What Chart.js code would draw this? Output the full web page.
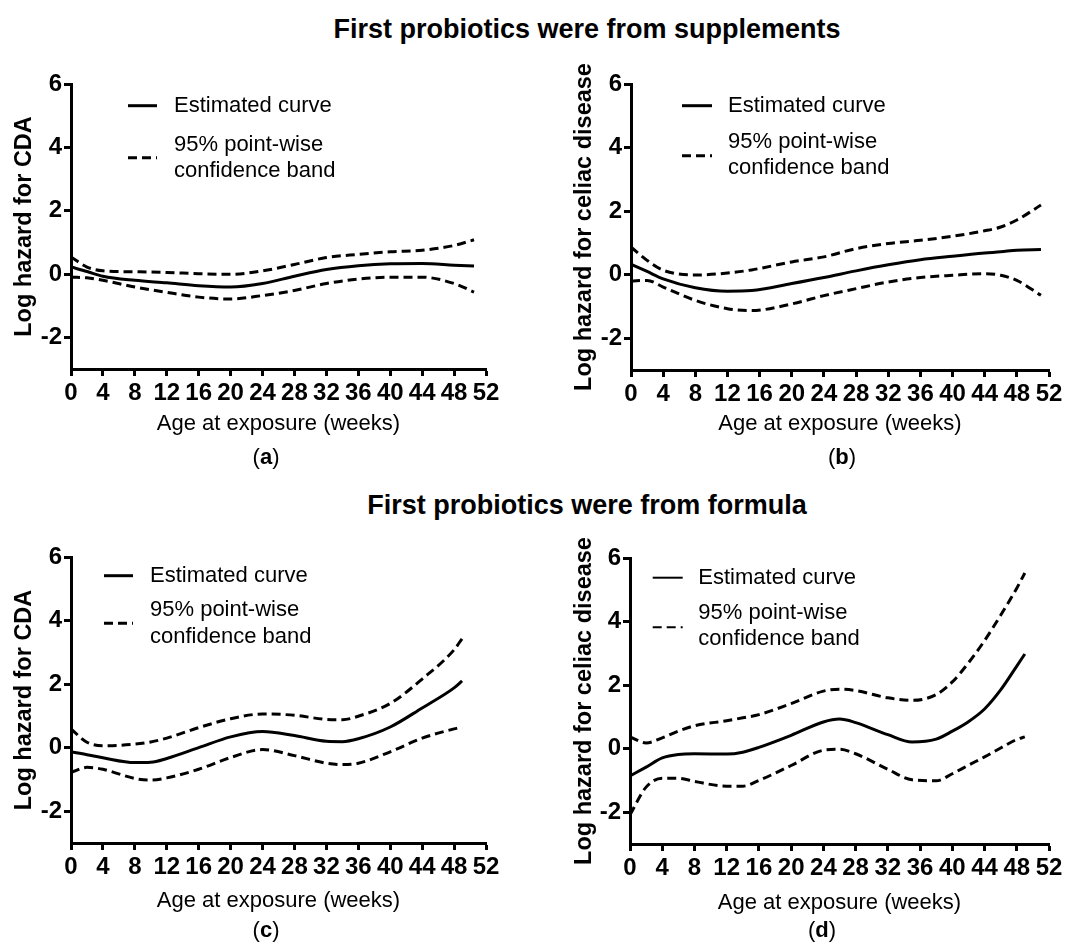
<!DOCTYPE html>
<html>
<head>
<meta charset="utf-8">
<script src="https://cdn.jsdelivr.net/npm/chart.js@4.4.0/dist/chart.umd.min.js"></script>
<style>
  body { margin: 0; background: #fff; }
  #page { position: relative; width: 1076px; height: 947px; font-family: 'Liberation Sans', Arial, sans-serif; color: #000; }
  canvas { position: absolute; }
  .title { position: absolute; font-weight: bold; font-size: 27px; line-height: 27px; white-space: nowrap; text-align: center; width: 700px; }
  .tag { position: absolute; font-size: 22px; line-height: 22px; width: 60px; text-align: center; }
</style>
</head>
<body>
<div id="page">
  <div class="title" style="left:237px; top:16px;">First probiotics were from supplements</div>
  <div class="title" style="left:237px; top:492px;">First probiotics were from formula</div>
  <canvas id="chartA" width="538" height="420" style="left:0px; top:60px;"></canvas>
  <canvas id="chartB" width="536" height="420" style="left:540px; top:60px;"></canvas>
  <canvas id="chartC" width="538" height="427" style="left:0px; top:520px;"></canvas>
  <canvas id="chartD" width="536" height="427" style="left:540px; top:520px;"></canvas>
  <div class="tag" style="left:236px; top:446px;">(<b>a</b>)</div>
  <div class="tag" style="left:812px; top:446px;">(<b>b</b>)</div>
  <div class="tag" style="left:236px; top:919px;">(<b>c</b>)</div>
  <div class="tag" style="left:792px; top:919px;">(<b>d</b>)</div>
</div>
<script>
Chart.defaults.font.family = "'Liberation Sans', Arial, sans-serif";
Chart.defaults.color = '#000';

const xTicks = [0, 4, 8, 12, 16, 20, 24, 28, 32, 36, 40, 44, 48, 52];
const yTicks = [-2, 0, 2, 4, 6];
const legendLabels = ['Estimated curve', '95% point-wise', 'confidence band'];

// (a) supplements, CDA
const weeksA = [0, 2, 4, 8, 12, 16, 20, 24, 28, 32, 36, 40, 44, 48, 50.5];
const estA   = [0.22, 0.08, -0.07, -0.2, -0.28, -0.37, -0.41, -0.3, -0.07, 0.14, 0.26, 0.32, 0.33, 0.28, 0.25];
const upA    = [0.54, 0.22, 0.1, 0.07, 0.05, 0.01, -0.01, 0.1, 0.3, 0.52, 0.62, 0.7, 0.75, 0.9, 1.08];
const lowA   = [-0.1, -0.12, -0.2, -0.41, -0.58, -0.73, -0.79, -0.68, -0.52, -0.3, -0.16, -0.1, -0.1, -0.3, -0.57];

// (b) supplements, celiac disease
const weeksB = [0, 2, 4, 8, 12, 15, 20, 24, 28, 32, 36, 40, 44, 46, 48, 51];
const estB   = [0.33, 0.1, -0.13, -0.41, -0.52, -0.5, -0.28, -0.09, 0.12, 0.31, 0.47, 0.58, 0.68, 0.72, 0.77, 0.79];
const upB    = [0.87, 0.45, 0.14, -0.01, 0.05, 0.15, 0.4, 0.56, 0.82, 0.98, 1.08, 1.21, 1.38, 1.5, 1.72, 2.19];
const lowB   = [-0.2, -0.18, -0.39, -0.81, -1.07, -1.13, -0.92, -0.66, -0.44, -0.23, -0.09, -0.02, 0.03, -0.02, -0.18, -0.65];

// (c) formula, CDA
const weeksC = [0, 2, 4, 8, 10, 12, 16, 20, 24, 28, 32, 34, 36, 40, 44, 48, 49];
const estC   = [-0.13, -0.22, -0.32, -0.47, -0.46, -0.34, 0, 0.34, 0.51, 0.38, 0.2, 0.19, 0.28, 0.65, 1.25, 1.88, 2.1];
const upC    = [0.59, 0.17, 0.06, 0.11, 0.18, 0.3, 0.63, 0.91, 1.06, 1.02, 0.89, 0.88, 0.99, 1.39, 2.16, 3.08, 3.43];
const lowC   = [-0.78, -0.62, -0.68, -0.97, -1.02, -0.95, -0.68, -0.31, -0.06, -0.25, -0.49, -0.53, -0.49, -0.13, 0.3, 0.59, 0.65];

// (d) formula, celiac disease
const weeksD = [0, 2, 4, 6, 8, 12, 14, 16, 20, 24, 26, 28, 32, 35, 38, 40, 42, 44, 46, 48, 49];
const estD   = [-0.86, -0.58, -0.29, -0.18, -0.16, -0.17, -0.11, 0.04, 0.42, 0.84, 0.93, 0.82, 0.44, 0.21, 0.3, 0.55, 0.85, 1.25, 1.85, 2.6, 2.98];
const upD    = [0.37, 0.18, 0.34, 0.55, 0.72, 0.88, 0.97, 1.07, 1.42, 1.81, 1.87, 1.83, 1.6, 1.52, 1.7, 2.1, 2.7, 3.4, 4.2, 5.05, 5.53];
const lowD   = [-2.08, -1.21, -0.93, -0.93, -1.03, -1.18, -1.18, -1.0, -0.53, -0.05, -0.02, -0.16, -0.65, -0.98, -1.01, -0.79, -0.52, -0.26, 0.02, 0.29, 0.37];

// draws the little legend inside the plot area
const panelLegend = {
  id: 'panelLegend',
  afterDraw(chart, args, o) {
    const ctx = chart.ctx;
    const L = chart.chartArea.left, T = chart.chartArea.top;
    ctx.save();
    ctx.strokeStyle = '#000';
    ctx.lineWidth = o.lw;
    ctx.beginPath();
    ctx.moveTo(L + o.x0, T + o.ySolid);
    ctx.lineTo(L + o.x1, T + o.ySolid);
    ctx.stroke();
    ctx.setLineDash([9, 5]);
    ctx.beginPath();
    ctx.moveTo(L + o.x0, T + o.yDash);
    ctx.lineTo(L + o.x1, T + o.yDash);
    ctx.stroke();
    ctx.fillStyle = '#000';
    ctx.font = "22px 'Liberation Sans', Arial, sans-serif";
    ctx.textBaseline = 'middle';
    ctx.fillText(legendLabels[0], L + o.tx, T + o.ySolid);
    ctx.fillText(legendLabels[1], L + o.tx, T + o.y1);
    ctx.fillText(legendLabels[2], L + o.tx, T + o.y2);
    ctx.restore();
  }
};

function pts(weeks, vals) {
  return weeks.map((w, i) => ({ x: w, y: vals[i] }));
}

function makePanel(id, weeks, est, up, low, yTitle, g, leg) {
  const dashed = { borderColor: '#000', borderWidth: 3, borderDash: [9, 5], pointRadius: 0, cubicInterpolationMode: 'monotone', fill: false };
  return new Chart(document.getElementById(id), {
    type: 'line',
    data: {
      datasets: [
        { label: legendLabels[0], data: pts(weeks, est), borderColor: '#000', borderWidth: 3, pointRadius: 0, cubicInterpolationMode: 'monotone', fill: false },
        Object.assign({ label: 'upper', data: pts(weeks, up) }, dashed),
        Object.assign({ label: 'lower', data: pts(weeks, low) }, dashed)
      ]
    },
    options: {
      responsive: false,
      animation: false,
      layout: { padding: { top: g.top, right: g.right, left: 0, bottom: 0 } },
      plugins: {
        legend: { display: false },
        tooltip: { enabled: false },
        panelLegend: leg
      },
      scales: {
        x: {
          type: 'linear', min: 0, max: 52,
          afterBuildTicks: s => { s.ticks = xTicks.map(v => ({ value: v })); },
          afterFit: s => { s.height = g.xh; },
          grid: { display: true, drawOnChartArea: false, drawTicks: true, tickLength: 7, tickWidth: 3, tickColor: '#000' },
          border: { display: true, width: 3, color: '#000' },
          ticks: { color: '#000', font: { size: 24, weight: 'bold', lineHeight: 1 }, padding: 5, maxRotation: 0, autoSkip: false },
          title: { display: true, text: 'Age at exposure (weeks)', color: '#000', font: { size: 22, lineHeight: 1 }, padding: { top: 0, bottom: g.xtPad } }
        },
        y: {
          min: -3, max: 6,
          afterBuildTicks: s => { s.ticks = yTicks.map(v => ({ value: v })); },
          afterFit: s => { s.width = g.yw; },
          grid: { display: true, drawOnChartArea: false, drawTicks: true, tickLength: 7, tickWidth: 3, tickColor: '#000' },
          border: { display: true, width: 3, color: '#000' },
          ticks: { color: '#000', font: { size: 24, weight: 'bold', lineHeight: 1 }, padding: 2 },
          title: { display: true, text: yTitle, color: '#000', font: { size: 23.5, weight: 'bold', lineHeight: 1 }, padding: { top: g.ytPad, bottom: 0 } }
        }
      }
    },
    plugins: [panelLegend]
  });
}

makePanel('chartA', weeksA, estA, upA, lowA, 'Log hazard for CDA',
  { top: 24, right: 52, yw: 71, xh: 111, xtPad: 45, ytPad: 12.5 },
  { lw: 3, x0: 57, x1: 86, tx: 103, ySolid: 21.7, yDash: 73.7, y1: 61, y2: 87 });
makePanel('chartB', weeksB, estB, upB, lowB, 'Log hazard for celiac disease',
  { top: 24, right: 27, yw: 91, xh: 110, xtPad: 45, ytPad: 32.5 },
  { lw: 3, x0: 51, x1: 81, tx: 97, ySolid: 21.7, yDash: 71.7, y1: 57.7, y2: 84.3 });
makePanel('chartC', weeksC, estC, upC, lowC, 'Log hazard for CDA',
  { top: 37, right: 52, yw: 71, xh: 104, xtPad: 35, ytPad: 12.5 },
  { lw: 3, x0: 33, x1: 62, tx: 79, ySolid: 18.7, yDash: 66.3, y1: 53, y2: 79.7 });
makePanel('chartD', weeksD, estD, upD, lowD, 'Log hazard for celiac disease',
  { top: 38, right: 27, yw: 90, xh: 103, xtPad: 33, ytPad: 32.5 },
  { lw: 2, x0: 22.7, x1: 52.7, tx: 68.3, ySolid: 19.7, yDash: 69.3, y1: 54.7, y2: 81.3 });
</script>
</body>
</html>
